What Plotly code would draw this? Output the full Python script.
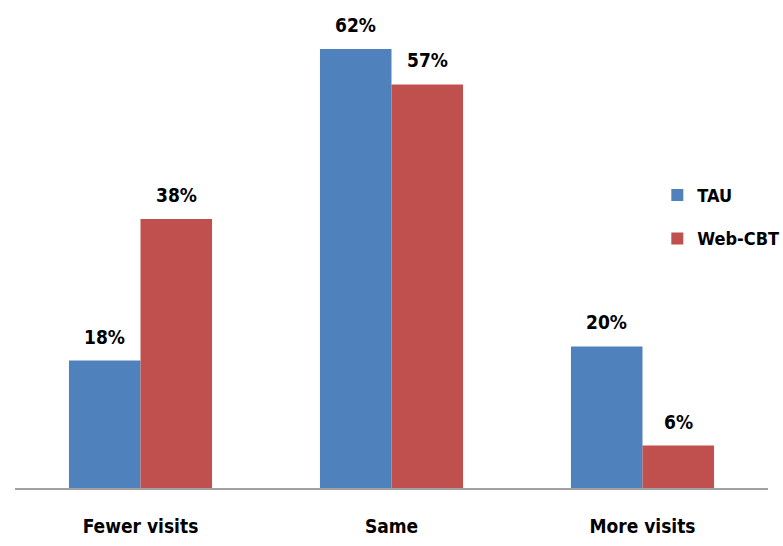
import plotly.graph_objects as go

categories = ["Fewer visits", "Same", "More visits"]
tau = [18, 62, 20]
webcbt = [38, 57, 6]
series_names = ["TAU", "Web-CBT"]
colors = ["#4F81BD", "#C0504D"]

FONT = "DejaVu Sans Condensed, Liberation Sans Narrow, sans-serif"
BARGAP = 0.43

fig = go.Figure()
series = [tau, webcbt]
for i, (name, vals) in enumerate(zip(series_names, series)):
    fig.add_trace(go.Bar(
        x=categories, y=vals, name=name,
        marker=dict(color=colors[i], line=dict(width=0)),
        legendgroup=name,
    ))

# value labels above bars
half = (1 - BARGAP) / 4
for i, vals in enumerate(series):
    off = -half if i == 0 else half
    for j, v in enumerate(vals):
        fig.add_annotation(x=j + off, y=v, xref="x", yref="y",
                           text=f"{v}%", showarrow=False,
                           yanchor="bottom", yshift=11,
                           font=dict(family=FONT, size=19, color="black", weight="bold"))

fig.update_layout(
    width=783, height=546,
    margin=dict(l=15, r=15, t=20, b=58, autoexpand=False),
    paper_bgcolor="white", plot_bgcolor="white",
    barmode="group", bargap=BARGAP, bargroupgap=0,
    font=dict(family=FONT, size=19, color="black", weight="bold"),
    showlegend=True,
    legend=dict(x=0.853, y=0.665, xanchor="left", yanchor="top",
                font=dict(family=FONT, size=18, color="black", weight="bold"),
                traceorder="grouped", tracegroupgap=17, itemwidth=30,
                bgcolor="rgba(0,0,0,0)"),
    xaxis=dict(showline=True, linecolor="#A0A0A0", linewidth=1.5,
               ticks="", showgrid=False, ticklabelstandoff=20,
               tickfont=dict(family=FONT, size=19, color="black", weight="bold")),
    yaxis=dict(range=[0, 66.1], visible=False, showgrid=False),
)

fig.write_html("out.html")
